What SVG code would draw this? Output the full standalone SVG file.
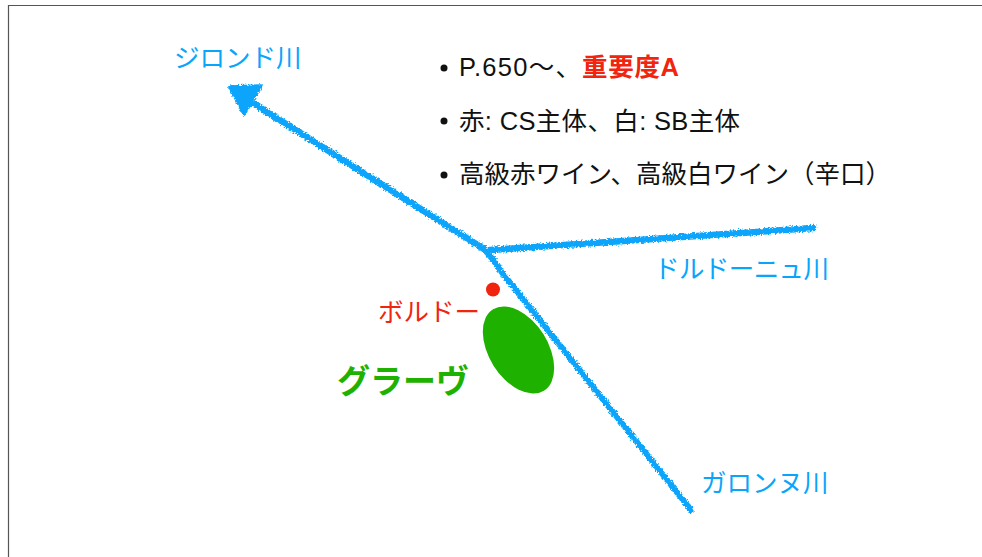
<svg xmlns="http://www.w3.org/2000/svg" width="982" height="557" viewBox="0 0 982 557">
<defs>
<filter id="rough" x="0" y="0" width="982" height="557" filterUnits="userSpaceOnUse">
<feTurbulence type="fractalNoise" baseFrequency="0.6" numOctaves="2" seed="4" result="n"/>
<feDisplacementMap in="SourceGraphic" in2="n" scale="5" xChannelSelector="R" yChannelSelector="G"/>
</filter>
</defs>
<style>
text{font-family:"Liberation Sans","Noto Sans CJK JP",sans-serif;white-space:pre}
.river{fill:none;stroke:#08a5fb;stroke-linecap:round;stroke-linejoin:round}
.blue{fill:#08a5fb;font-size:25.500px}
.list{fill:#111;font-size:25.500px}
</style>
<rect width="982" height="557" fill="#fff"/>
<path d="M8.500 557V5.500H982" fill="none" stroke="#555" stroke-width="1.200"/>
<g id="connectors" filter="url(#rough)">
<path class="river" stroke-width="6.500" d="M248 100L484 249"/>
<path class="river" stroke-width="6" d="M484 249Q494 260 500 270L691 510"/>
<path class="river" stroke-width="6.500" d="M490 250L813 228"/>
<path d="M230 87L261 86L244 114Z" fill="#08a5fb" stroke="#08a5fb" stroke-width="3.500" stroke-linejoin="round"/>
</g>
<g id="node-gironde"><text class="blue" x="174" y="67">ジロンド川</text></g>
<g id="node-dordogne"><text class="blue" x="654" y="278" textLength="175">ドルドーニュ川</text></g>
<g id="node-garonne"><text class="blue" x="701" y="492">ガロンヌ川</text></g>
<g id="node-bordeaux">
<circle cx="493" cy="289.500" r="7" fill="#f0240f"/>
<text x="378" y="321" font-size="25.500" fill="#f0240f">ボルドー</text>
</g>
<g id="node-graves">
<ellipse cx="518.500" cy="350" rx="29.500" ry="48" transform="rotate(-32 518.500 350)" fill="#1fb100"/>
<text x="337" y="393" font-size="33" font-weight="700" fill="#1fb100">グラーヴ</text>
</g>
<g id="notes">
<circle cx="444" cy="68" r="3.500" fill="#111"/>
<text class="list" x="459" y="76" textLength="122">P.650～、</text>
<text x="582" y="76" font-size="25.500" font-weight="700" fill="#f0240f" textLength="97">重要度A</text>
<circle cx="444" cy="121" r="3.500" fill="#111"/>
<text class="list" x="459" y="130" textLength="281">赤: CS主体、白: SB主体</text>
<circle cx="444" cy="175" r="3.500" fill="#111"/>
<text class="list" x="459" y="183">高級赤ワイン、高級白ワイン（辛口）</text>
</g>
</svg>
